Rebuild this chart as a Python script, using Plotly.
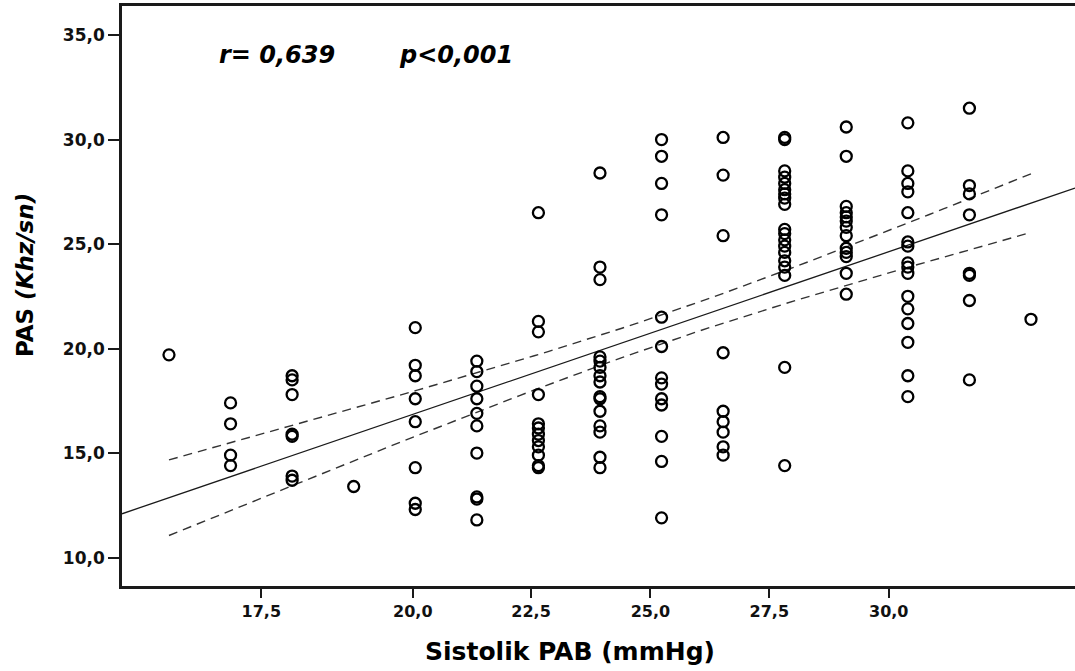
import numpy as np
import plotly.graph_objects as go

# ---- data: PAS (Khz/sn) values per Sistolik PAB (mmHg) level ----
sbp_levels = [16, 17, 18, 19, 20, 21, 22, 23, 24, 25, 26, 27, 28, 29, 30]
pas_16 = [19.7]
pas_17 = [17.4, 16.4, 14.9, 14.4]
pas_18 = [18.7, 18.5, 17.8, 15.9, 15.8, 13.9, 13.7]
pas_19 = [13.4]
pas_20 = [21.0, 19.2, 18.7, 17.6, 16.5, 14.3, 12.6, 12.3]
pas_21 = [19.4, 18.9, 18.2, 17.6, 16.9, 16.3, 15.0, 12.9, 12.8, 11.8]
pas_22 = [26.5, 21.3, 20.8, 17.8, 16.4, 16.2, 15.9, 15.6, 15.3, 14.9, 14.4, 14.3]
pas_23 = [28.4, 23.9, 23.3, 19.6, 19.4, 19.1, 18.7, 18.4, 17.7, 17.6, 17.0, 16.3, 16.0, 14.8, 14.3]
pas_24 = [30.0, 29.2, 27.9, 26.4, 21.5, 20.1, 18.6, 18.3, 17.6, 17.3, 15.8, 14.6, 11.9]
pas_25 = [30.1, 28.3, 25.4, 19.8, 17.0, 16.5, 16.0, 15.3, 14.9]
pas_26 = [30.1, 30.0, 28.5, 28.2, 27.9, 27.6, 27.4, 27.2, 26.9, 25.7, 25.5, 25.2, 24.9,
          24.6, 24.2, 23.9, 23.5, 19.1, 14.4]
pas_27 = [30.6, 29.2, 26.8, 26.5, 26.3, 26.1, 25.8, 25.4, 24.8, 24.6, 24.4, 23.6, 22.6]
pas_28 = [30.8, 28.5, 27.9, 27.5, 26.5, 25.1, 24.9, 24.1, 23.9, 23.6, 22.5, 21.9, 21.2,
          20.3, 18.7, 17.7]
pas_29 = [31.5, 27.8, 27.4, 26.4, 23.6, 23.5, 22.3, 18.5]
pas_30 = [21.4]

x_tick_labels = ["17,5", "20,0", "22,5", "25,0", "27,5", "30,0"]
stat_r = "r= 0,639"
stat_p = "p<0,001"

columns = [pas_16, pas_17, pas_18, pas_19, pas_20, pas_21, pas_22, pas_23,
           pas_24, pas_25, pas_26, pas_27, pas_28, pas_29, pas_30]
x = []
y = []
for lvl, vals in zip(sbp_levels, columns):
    x += [lvl] * len(vals)
    y += vals
x = np.array(x, dtype=float)
y = np.array(y, dtype=float)

# ---- linear fit and 95% CI of the mean ----
b1, b0 = np.polyfit(x, y, 1)
n = len(x)
resid = y - (b0 + b1 * x)
s = np.sqrt(np.sum(resid ** 2) / (n - 2))
sxx = np.sum((x - x.mean()) ** 2)
t_crit = 1.976

x_range = [15.237, 30.715]
y_range = [8.64, 36.39]

xl = np.array(x_range)
xc = np.linspace(x.min(), x.max(), 60)
yc = b0 + b1 * xc
half = t_crit * s * np.sqrt(1.0 / n + (xc - x.mean()) ** 2 / sxx)

fig = go.Figure()
fig.add_trace(go.Scatter(x=xl, y=b0 + b1 * xl, mode="lines",
                         line=dict(color="#1a1a1a", width=1.3), hoverinfo="skip"))
fig.add_trace(go.Scatter(x=xc, y=yc + half, mode="lines",
                         line=dict(color="#333333", width=1.4, dash="9px,6px"), hoverinfo="skip"))
fig.add_trace(go.Scatter(x=xc, y=yc - half, mode="lines",
                         line=dict(color="#333333", width=1.4, dash="9px,6px"), hoverinfo="skip"))
fig.add_trace(go.Scatter(x=x, y=y, mode="markers",
                         marker=dict(symbol="circle-open", size=11, color="black",
                                     line=dict(width=2.3, color="black"))))

font_family = "DejaVu Sans"
fig.update_layout(
    width=1075, height=671,
    margin=dict(l=122, r=0, t=6, b=85),
    paper_bgcolor="white", plot_bgcolor="white",
    showlegend=False,
    separators=",.",
    font=dict(family=font_family, color="#111111"),
)
fig.update_xaxes(
    range=x_range, showgrid=False, zeroline=False,
    showline=True, linecolor="#1a1a1a", linewidth=2.6, mirror=True,
    ticks="outside", ticklen=9, tickwidth=2, tickcolor="#1a1a1a",
    tickvals=[17.5, 19.96, 21.88, 23.82, 25.75, 27.69], ticktext=x_tick_labels,
    tickfont=dict(family=font_family, size=16, color="#111111", weight="bold"),
)
fig.update_yaxes(
    range=y_range, showgrid=False, zeroline=False,
    showline=True, linecolor="#1a1a1a", linewidth=2.6,
    ticks="outside", ticklen=11, tickwidth=2, tickcolor="#1a1a1a",
    tick0=10, dtick=5, tickformat=".1f",
    tickfont=dict(family=font_family, size=17, color="#111111", weight="bold"),
)

fig.add_annotation(x=(217 - 122) / 953, y=(586 - 55) / 580, xref="paper", yref="paper",
                   text="<b><i>" + stat_r + "</i></b>", showarrow=False,
                   xanchor="left", yanchor="middle",
                   font=dict(family=font_family, size=24, color="black"))
fig.add_annotation(x=(397 - 122) / 953, y=(586 - 55) / 580, xref="paper", yref="paper",
                   text="<b><i>" + stat_p + "</i></b>", showarrow=False,
                   xanchor="left", yanchor="middle",
                   font=dict(family=font_family, size=24, color="black"))
fig.add_annotation(x=(25 - 122) / 953, y=(586 - 275) / 580, xref="paper", yref="paper",
                   text="<b>PAS <i>(Khz/sn)</i></b>", showarrow=False, textangle=-90,
                   xanchor="center", yanchor="middle",
                   font=dict(family=font_family, size=23, color="black"))
fig.add_annotation(x=(570 - 122) / 953, y=(586 - 651) / 580, xref="paper", yref="paper",
                   text="<b>Sistolik PAB (mmHg)</b>", showarrow=False,
                   xanchor="center", yanchor="middle",
                   font=dict(family=font_family, size=25, color="black"))

fig.write_html("out.html")
